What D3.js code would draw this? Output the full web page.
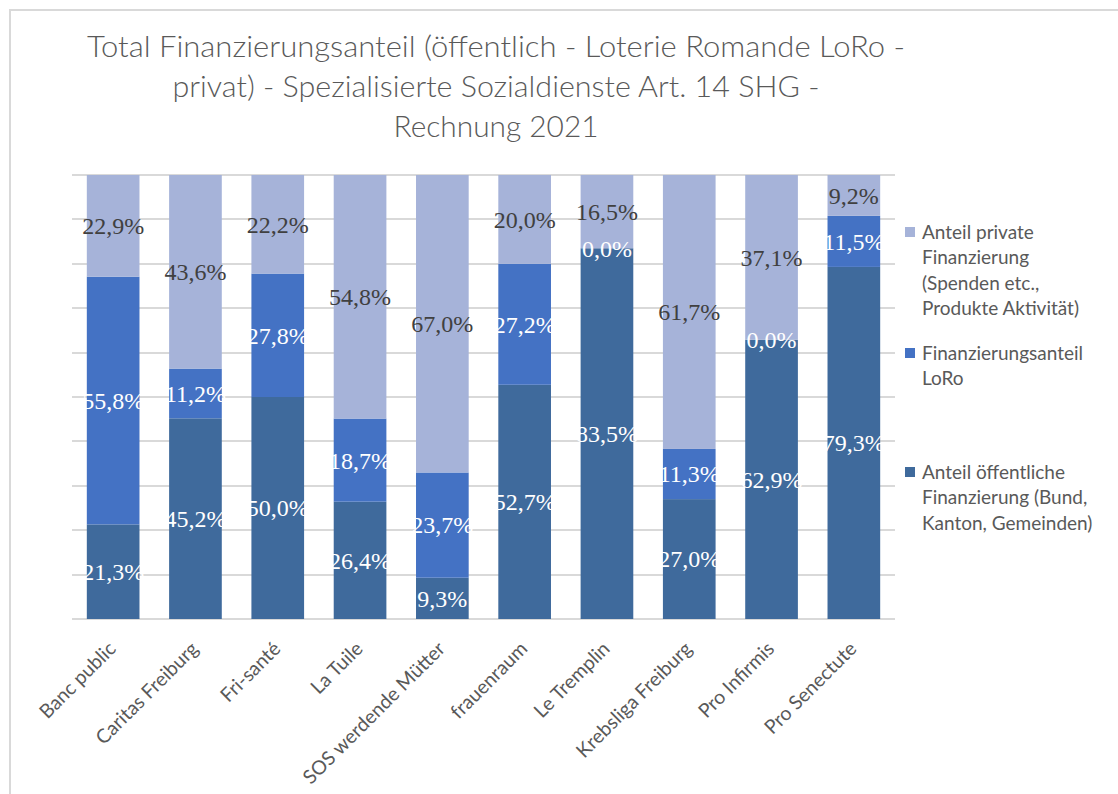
<!DOCTYPE html>
<html>
<head>
<meta charset="utf-8">
<script src="https://cdn.jsdelivr.net/npm/d3@7"></script>
<style>
  body { margin: 0; background: #fff; }
  svg { display: block; }
</style>
</head>
<body>
<svg id="chart" width="1118" height="794"></svg>
<script>
// data (Rechnung 2021)
const categories = ['Banc public', 'Caritas Freiburg', 'Fri-santé', 'La Tuile', 'SOS werdende Mütter',
  'frauenraum', 'Le Tremplin', 'Krebsliga Freiburg', 'Pro Infirmis', 'Pro Senectute'];
const oeffentlich = [21.3, 45.2, 50.0, 26.4, 9.3, 52.7, 83.5, 27.0, 62.9, 79.3];
const loro = [55.8, 11.2, 27.8, 18.7, 23.7, 27.2, 0.0, 11.3, 0.0, 11.5];
const privat = [22.9, 43.6, 22.2, 54.8, 67.0, 20.0, 16.5, 61.7, 37.1, 9.2];

const titleLines = ['Total Finanzierungsanteil (öffentlich - Loterie Romande LoRo -',
  'privat) - Spezialisierte Sozialdienste Art. 14 SHG -', 'Rechnung 2021'];

const seriesKeys = ['oeffentlich', 'loro', 'privat'];
const seriesInfo = {
  oeffentlich: { color: '#3f6a9c', text: '#ffffff',
    legend: ['Anteil öffentliche', 'Finanzierung (Bund,', 'Kanton, Gemeinden)'] },
  loro: { color: '#4472c4', text: '#ffffff', legend: ['Finanzierungsanteil', 'LoRo'] },
  privat: { color: '#a6b3d9', text: '#404040',
    legend: ['Anteil private', 'Finanzierung', '(Spenden etc.,', 'Produkte Aktivität)'] }
};

const rows = categories.map((c, i) => ({
  name: c, oeffentlich: oeffentlich[i], loro: loro[i], privat: privat[i]
}));

const svg = d3.select('#chart');
const gray = '#595959';
const uiFont = 'Lato, "Open Sans", sans-serif';

// chart frame (partly outside the window, like the screenshot)
svg.append('rect')
  .attr('x', 10).attr('y', 10)
  .attr('width', 1200).attr('height', 900)
  .attr('fill', 'none').attr('stroke', '#d9d9d9').attr('stroke-width', 2);

// title
const titleY = [47, 87, 127];
const titleW = [818, 647, 205];
svg.append('g').selectAll('text')
  .data(titleLines)
  .join('text')
  .attr('x', 496)
  .attr('y', (d, i) => titleY[i])
  .attr('dy', '0.35em')
  .attr('text-anchor', 'middle')
  .attr('textLength', (d, i) => titleW[i])
  .attr('lengthAdjust', 'spacingAndGlyphs')
  .style('font-family', uiFont)
  .style('font-size', '29px')
  .style('font-weight', 300)
  .attr('fill', gray)
  .text(d => d);

const x = d3.scaleBand().domain(categories).range([72, 895]).paddingInner(0.36).paddingOuter(0.18);
const y = d3.scaleLinear().domain([0, 1]).range([619, 175]);

// gridlines
svg.append('g')
  .selectAll('line')
  .data(d3.range(0, 1.0001, 0.1))
  .join('line')
  .attr('x1', 72).attr('x2', 895)
  .attr('y1', d => Math.round(y(d))).attr('y2', d => Math.round(y(d)))
  .attr('stroke', '#d9d9d9')
  .attr('stroke-width', 2);

const stacked = d3.stack().keys(seriesKeys).offset(d3.stackOffsetExpand)(rows);

const layers = svg.append('g').selectAll('g')
  .data(stacked)
  .join('g')
  .attr('fill', d => seriesInfo[d.key].color);

layers.selectAll('rect')
  .data(d => d)
  .join('rect')
  .attr('x', d => x(d.data.name))
  .attr('width', x.bandwidth())
  .attr('y', d => y(d[1]))
  .attr('height', d => y(d[0]) - y(d[1]));

// value labels, centred in each segment
const labels = svg.append('g');
stacked.forEach(layer => {
  labels.selectAll(null)
    .data(layer)
    .join('text')
    .attr('x', d => x(d.data.name) + x.bandwidth() / 2)
    .attr('y', d => (y(d[0]) + y(d[1])) / 2)
    .attr('dy', '0.35em')
    .attr('text-anchor', 'middle')
    .style('font-family', '"Liberation Serif", "Times New Roman", serif')
    .style('font-size', '24px')
    .attr('fill', seriesInfo[layer.key].text)
    .text(d => d3.format('.1f')(d.data[layer.key]).replace('.', ',') + '%');
});

// category labels
svg.append('g').selectAll('text')
  .data(categories)
  .join('text')
  .attr('transform', d => `translate(${x(d) + x.bandwidth() / 2 + 4},650) rotate(-45)`)
  .attr('text-anchor', 'end')
  .style('font-family', uiFont)
  .style('font-size', '19.5px')
  .attr('fill', gray)
  .text(d => d);

// legend
const legendTop = { privat: 232, loro: 353, oeffentlich: 472 };
const legend = svg.append('g');
['privat', 'loro', 'oeffentlich'].forEach(key => {
  const g = legend.append('g').attr('transform', `translate(905,${legendTop[key]})`);
  g.append('rect')
    .attr('x', 0).attr('y', -5)
    .attr('width', 10).attr('height', 10)
    .attr('fill', seriesInfo[key].color);
  g.selectAll('text')
    .data(seriesInfo[key].legend)
    .join('text')
    .attr('x', 17)
    .attr('y', (d, i) => i * 25.5)
    .attr('dy', '0.35em')
    .style('font-family', uiFont)
    .style('font-size', '19px')
    .attr('fill', gray)
    .text(d => d);
});
</script>
</body>
</html>
